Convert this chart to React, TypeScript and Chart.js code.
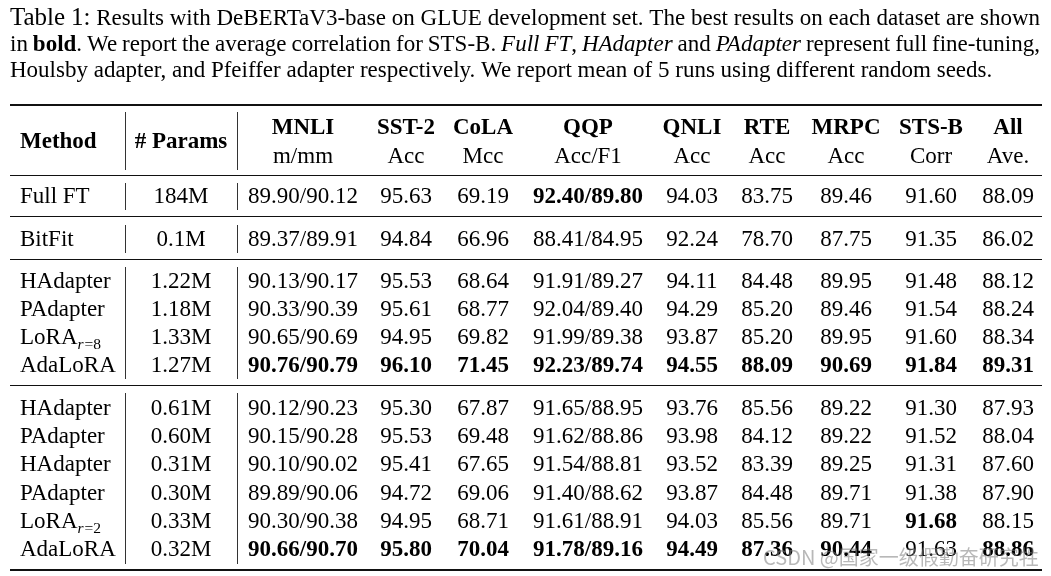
import React, { useEffect, useRef } from "react";
import { Chart, registerables } from "chart.js";

Chart.register(...registerables);

// ---------- data ----------
const captionLines = [
  "[[Table]] [[1:]] Results with DeBERTaV3-base on GLUE development set. The best results on each dataset are shown",
  "in **bold**. We report the average correlation for STS-B. *Full FT*, *HAdapter* and *PAdapter* represent full fine-tuning,",
  "Houlsby adapter, and Pfeiffer adapter respectively. We report mean of 5 runs using different random seeds.",
];
const captionJustify = [true, true, false];

const headerLeft = ["Method", "# Params"];
const datasetNames = ["MNLI", "SST-2", "CoLA", "QQP", "QNLI", "RTE", "MRPC", "STS-B", "All"];
const metricNames = ["m/mm", "Acc", "Mcc", "Acc/F1", "Acc", "Acc", "Acc", "Corr", "Ave."];

const methods = ["Full FT", "BitFit", "HAdapter", "PAdapter", "LoRA_r=8", "AdaLoRA", "HAdapter", "PAdapter", "HAdapter", "PAdapter", "LoRA_r=2", "AdaLoRA"];
const params = ["184M", "0.1M", "1.22M", "1.18M", "1.33M", "1.27M", "0.61M", "0.60M", "0.31M", "0.30M", "0.33M", "0.32M"];
const mnli = ["89.90/90.12", "89.37/89.91", "90.13/90.17", "90.33/90.39", "90.65/90.69", "90.76/90.79", "90.12/90.23", "90.15/90.28", "90.10/90.02", "89.89/90.06", "90.30/90.38", "90.66/90.70"];
const sst2 = ["95.63", "94.84", "95.53", "95.61", "94.95", "96.10", "95.30", "95.53", "95.41", "94.72", "94.95", "95.80"];
const cola = ["69.19", "66.96", "68.64", "68.77", "69.82", "71.45", "67.87", "69.48", "67.65", "69.06", "68.71", "70.04"];
const qqp = ["92.40/89.80", "88.41/84.95", "91.91/89.27", "92.04/89.40", "91.99/89.38", "92.23/89.74", "91.65/88.95", "91.62/88.86", "91.54/88.81", "91.40/88.62", "91.61/88.91", "91.78/89.16"];
const qnli = ["94.03", "92.24", "94.11", "94.29", "93.87", "94.55", "93.76", "93.98", "93.52", "93.87", "94.03", "94.49"];
const rte = ["83.75", "78.70", "84.48", "85.20", "85.20", "88.09", "85.56", "84.12", "83.39", "84.48", "85.56", "87.36"];
const mrpc = ["89.46", "87.75", "89.95", "89.46", "89.95", "90.69", "89.22", "89.22", "89.25", "89.71", "89.71", "90.44"];
const stsb = ["91.60", "91.35", "91.48", "91.54", "91.60", "91.84", "91.30", "91.52", "91.31", "91.38", "91.68", "91.63"];
const allAve = ["88.09", "86.02", "88.12", "88.24", "88.34", "89.31", "87.93", "88.04", "87.60", "87.90", "88.15", "88.86"];
// bold metric columns (0 = MNLI ... 8 = All) for each row
const boldCells = [[3], [], [], [], [], [0, 1, 2, 3, 4, 5, 6, 7, 8], [], [], [], [], [7], [0, 1, 2, 3, 4, 5, 6, 8]];
const watermark = "CSDN @国家一级假勤奋研究牲";

// ---------- layout ----------
const W = 1051;
const H = 576;
const FONT = '"Liberation Serif", "Times New Roman", serif';
const FS = 23;
const CAP_FS = 23;
const CAP_LARGE_FS = 25;
const SUB_FS = 15.5;
const COL_X = [20, 181, 303, 406, 483, 588, 692, 767, 846, 931, 1008];
const ROW_Y = [195, 238, 280, 308, 336, 364, 407, 435, 463, 492, 520, 548];
const HEAD1_Y = 126;
const HEAD2_Y = 155;
const HEAD_MID_Y = 140;
const CAPTION_BASE = [25, 51, 77];
const TABLE_L = 10;
const TABLE_R = 1042;
const RULES = [
  { y: 105, w: 2 },
  { y: 175.5, w: 1.2 },
  { y: 216.5, w: 1.2 },
  { y: 259.5, w: 1.2 },
  { y: 385.5, w: 1.2 },
  { y: 570, w: 2 },
];
const VLINES_X = [125.5, 237.5];
const VSEGS = [
  [112, 170],
  [183, 210],
  [225, 253],
  [267, 379],
  [393, 564],
];

type Run = { t: string; st: string };

function fontFor(st: string, size = FS) {
  if (st === "b") return `bold ${size}px ${FONT}`;
  if (st === "i") return `italic ${size}px ${FONT}`;
  if (st === "L") return `${CAP_LARGE_FS}px ${FONT}`;
  return `${size}px ${FONT}`;
}

function parseRich(s: string): Run[][] {
  const words: Run[][] = [];
  let word: Run[] = [];
  let bold = false;
  let ital = false;
  let large = false;
  let i = 0;
  const push = (ch: string) => {
    const st = large ? "L" : bold ? "b" : ital ? "i" : "n";
    const last = word[word.length - 1];
    if (last && last.st === st) last.t += ch;
    else word.push({ t: ch, st });
  };
  while (i < s.length) {
    if (s.startsWith("[[", i)) {
      large = true;
      i += 2;
      continue;
    }
    if (s.startsWith("]]", i)) {
      large = false;
      i += 2;
      continue;
    }
    if (s.startsWith("**", i)) {
      bold = !bold;
      i += 2;
      continue;
    }
    if (s[i] === "*") {
      ital = !ital;
      i += 1;
      continue;
    }
    if (s[i] === " ") {
      if (word.length) words.push(word);
      word = [];
      i += 1;
      continue;
    }
    push(s[i]);
    i += 1;
  }
  if (word.length) words.push(word);
  return words;
}

function drawRichLine(ctx: CanvasRenderingContext2D, s: string, x0: number, x1: number, y: number, justify: boolean) {
  const words = parseRich(s);
  const widths = words.map((w) =>
    w.reduce((acc, r) => {
      ctx.font = fontFor(r.st, CAP_FS);
      return acc + ctx.measureText(r.t).width;
    }, 0)
  );
  ctx.font = fontFor("n", CAP_FS);
  const space = ctx.measureText(" ").width;
  const total = widths.reduce((a, b) => a + b, 0);
  const gap = justify && words.length > 1 ? (x1 - x0 - total) / (words.length - 1) : space;
  let x = x0;
  words.forEach((w, i) => {
    let cx = x;
    w.forEach((r) => {
      ctx.font = fontFor(r.st, CAP_FS);
      ctx.fillText(r.t, cx, y);
      cx += ctx.measureText(r.t).width;
    });
    x += widths[i] + gap;
  });
}

function drawText(ctx: CanvasRenderingContext2D, text: string, x: number, y: number, align: "left" | "center", st: string) {
  const [main, sub] = text.split("_");
  ctx.font = fontFor(st);
  const mw = ctx.measureText(main).width;
  let subW = 0;
  if (sub) {
    ctx.font = fontFor("i", SUB_FS);
    subW += ctx.measureText(sub[0]).width + 1;
    ctx.font = fontFor("n", SUB_FS);
    subW += ctx.measureText(sub.slice(1)).width;
  }
  const left = align === "center" ? x - (mw + subW) / 2 : x;
  ctx.textAlign = "left";
  ctx.font = fontFor(st);
  ctx.fillText(main, left, y);
  if (sub) {
    let sx = left + mw;
    ctx.font = fontFor("i", SUB_FS);
    ctx.fillText(sub[0], sx, y + 5);
    sx += ctx.measureText(sub[0]).width + 1;
    ctx.font = fontFor("n", SUB_FS);
    ctx.fillText(sub.slice(1), sx, y + 5);
  }
}

const columns = [methods, params, mnli, sst2, cola, qqp, qnli, rte, mrpc, stsb, allAve];

const tablePlugin = {
  id: "tablePlugin",
  afterDraw(chart: any) {
    const ctx: CanvasRenderingContext2D = chart.ctx;
    const xs = chart.scales.x;
    const ys = chart.scales.y;
    const px = (v: number) => xs.getPixelForValue(v);
    const py = (v: number) => ys.getPixelForValue(v);
    ctx.save();
    ctx.fillStyle = "#000";
    ctx.textBaseline = "alphabetic";

    // caption
    captionLines.forEach((line, i) => {
      drawRichLine(ctx, line, px(TABLE_L), px(TABLE_R - 2), py(CAPTION_BASE[i]), captionJustify[i]);
    });

    // rules
    ctx.strokeStyle = "#111";
    RULES.forEach((r) => {
      ctx.lineWidth = r.w;
      ctx.beginPath();
      ctx.moveTo(px(TABLE_L), py(r.y));
      ctx.lineTo(px(TABLE_R), py(r.y));
      ctx.stroke();
    });
    ctx.lineWidth = 1;
    ctx.strokeStyle = "#333";
    VLINES_X.forEach((vx) => {
      VSEGS.forEach(([a, b]) => {
        ctx.beginPath();
        ctx.moveTo(px(vx), py(a));
        ctx.lineTo(px(vx), py(b));
        ctx.stroke();
      });
    });

    // header
    const off = 7.5;
    drawText(ctx, headerLeft[0], px(COL_X[0]), py(HEAD_MID_Y + off), "left", "b");
    drawText(ctx, headerLeft[1], px(COL_X[1]), py(HEAD_MID_Y + off), "center", "b");
    datasetNames.forEach((d, i) => {
      drawText(ctx, d, px(COL_X[i + 2]), py(HEAD1_Y + off), "center", "b");
      drawText(ctx, metricNames[i], px(COL_X[i + 2]), py(HEAD2_Y + off), "center", "n");
    });

    // cells, placed at the dataset points
    columns.forEach((col, c) => {
      const meta = chart.getDatasetMeta(c);
      col.forEach((val, r) => {
        const el = meta.data[r];
        const bold = c >= 2 && boldCells[r].includes(c - 2);
        drawText(ctx, val, el.x, el.y + off, c === 0 ? "left" : "center", bold ? "b" : "n");
      });
    });

    // watermark
    ctx.font = `20px "Noto Sans CJK SC", "Noto Sans", sans-serif`;
    ctx.fillStyle = "rgba(125,125,125,0.55)";
    ctx.fillText(watermark, px(763), py(565));
    ctx.restore();
  },
};

export default function App() {
  const ref = useRef<HTMLCanvasElement | null>(null);
  useEffect(() => {
    if (!ref.current) return;
    const chart = new Chart(ref.current, {
      type: "scatter",
      data: {
        datasets: columns.map((col, c) => ({
          label: c === 0 ? "Method" : c === 1 ? "# Params" : datasetNames[c - 2],
          data: col.map((_, r) => ({ x: COL_X[c], y: ROW_Y[r] })),
          pointRadius: 0,
          pointHoverRadius: 0,
        })),
      },
      options: {
        responsive: false,
        animation: false,
        events: [],
        layout: { padding: 0 },
        plugins: { legend: { display: false }, tooltip: { enabled: false }, title: { display: false } },
        scales: {
          x: { type: "linear", min: 0, max: W, display: false },
          y: { type: "linear", min: 0, max: H, reverse: true, display: false },
        },
      },
      plugins: [tablePlugin],
    });
    return () => chart.destroy();
  }, []);
  return (
    <div style={{ position: "absolute", left: 0, top: 0, width: W, height: H, background: "#fff" }}>
      <canvas ref={ref} width={W} height={H} style={{ display: "block" }} />
    </div>
  );
}
